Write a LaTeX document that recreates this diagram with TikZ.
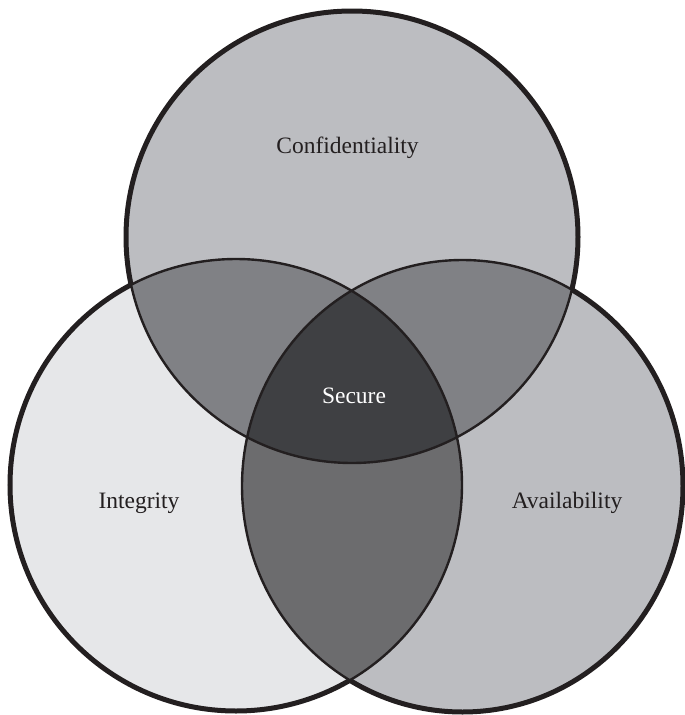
\documentclass[tikz,border=0pt]{standalone}
\usepackage{fontspec}
\setmainfont{Liberation Serif}
\definecolor{cConf}{HTML}{BCBDC1}
\definecolor{cInt}{HTML}{E6E7E9}
\definecolor{cAvail}{HTML}{BCBDC1}
\definecolor{cTwo}{HTML}{808185}
\definecolor{cLR}{HTML}{6C6C6E}
\definecolor{cCore}{HTML}{3F4043}
\definecolor{cInk}{HTML}{231F20}
\tikzset{
  innerline/.style={draw=cInk, line width=2.4pt},
  outerline/.style={draw=cInk, line width=5pt},
  lbl/.style={font=\fontsize{23.5}{28}\selectfont, text=cInk, anchor=base, inner sep=0pt},
  lblw/.style={lbl, text=white}
}
\def\circT{(352,237) circle[radius=226]}
\def\circL{(236,485) circle[radius=226]}
\def\circR{(462.5,486) ellipse[x radius=220.5, y radius=226]}
\begin{document}
\begin{tikzpicture}[x=1pt,y=-1pt]
\useasboundingbox (0,0) rectangle (685,715);
\clip (0,0) rectangle (685,715);
% base fills
\fill[cConf] \circT;
\fill[cInt] \circL;
\fill[cAvail] \circR;
% pairwise overlaps
\begin{scope}
  \clip \circT;
  \fill[cTwo] \circL;
  \fill[cTwo] \circR;
\end{scope}
\begin{scope}
  \clip \circL;
  \fill[cLR] \circR;
\end{scope}
% triple overlap
\begin{scope}
  \clip \circT;
  \clip \circL;
  \fill[cCore] \circR;
\end{scope}
% inner (thin) lines
\path[innerline] \circT;
\path[innerline] \circL;
\path[innerline] \circR;
% outer (thick) boundary
\begin{scope}[even odd rule]
  \clip (-100,-100) rectangle (800,800) \circL;
  \clip (-100,-100) rectangle (800,800) \circR;
  \path[outerline] \circT;
\end{scope}
\begin{scope}[even odd rule]
  \clip (-100,-100) rectangle (800,800) \circT;
  \clip (-100,-100) rectangle (800,800) \circR;
  \path[outerline] \circL;
\end{scope}
\begin{scope}[even odd rule]
  \clip (-100,-100) rectangle (800,800) \circT;
  \clip (-100,-100) rectangle (800,800) \circL;
  \path[outerline] \circR;
\end{scope}
% labels
\node[lbl] (conf) at (347.5,153) {Confidentiality};
\node[lbl] (integ) at (139,508) {Integrity};
\node[lbl] (avail) at (567,508) {Availability};
\node[lblw] (secure) at (354,403) {Secure};
\end{tikzpicture}
\end{document}
